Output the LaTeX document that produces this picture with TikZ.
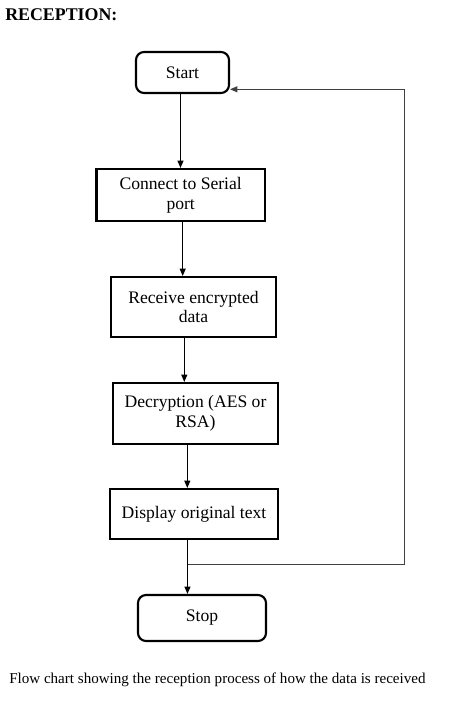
\documentclass[tikz,border=0pt]{standalone}
\usepackage{fontspec}
\setmainfont{Liberation Serif}
\usetikzlibrary{arrows.meta}
\begin{document}
\begin{tikzpicture}[x=0.75pt,y=-0.75pt,
    box/.style={draw,line width=1.6pt,inner sep=0pt,align=center,font=\fontsize{13.2}{14.8}\selectfont},
    term/.style={box,rounded corners=6pt},
    arr/.style={-{Triangle[length=5.5pt,width=4.5pt]},line width=0.75pt},
    fb/.style={draw=black!75}]
  \useasboundingbox (0,0) rectangle (450,704);
  \node[anchor=base west,inner sep=0pt,font=\bfseries\fontsize{13.4}{16}\selectfont] (title) at (5,20) {RECEPTION:};
  \node[term,minimum width=69.75pt,minimum height=30.75pt] (start) at (182.5,72.5) {Start};
  \node[box,minimum width=126.4pt,minimum height=39pt] (connect) at (180.7,195) {Connect to Serial\\port};
  \node[box,minimum width=123.75pt,minimum height=45pt] (receive) at (193.5,307) {Receive encrypted\\data};
  \node[box,minimum width=123.75pt,minimum height=45.75pt] (decrypt) at (195.5,413.5) {Decryption (AES or\\RSA)};
  \node[box,minimum width=126pt,minimum height=37.5pt] (display) at (194,514) {Display original text};
  \node[term,minimum width=96pt,minimum height=34.5pt] (stop) at (202,618) {Stop};
  \node[anchor=base west,inner sep=0pt,font=\fontsize{11.3}{13}\selectfont] (caption) at (9,683) {Flow chart showing the reception process of how the data is received};
  % main flow
  \draw[arr] ([xshift=-1.5pt]start.south) -- ([xshift=-1.5pt]start.south |- connect.north);
  \draw[arr] ([xshift=1.5pt]connect.south) -- ([xshift=1.5pt]connect.south |- receive.north);
  \draw[arr] ([xshift=-6.9pt]receive.south) -- ([xshift=-6.9pt]receive.south |- decrypt.north);
  \draw[arr] ([xshift=-6.15pt]decrypt.south) -- ([xshift=-6.15pt]decrypt.south |- display.north);
  \draw[arr] ([xshift=-4.9pt]display.south) -- ([xshift=-4.9pt]display.south |- stop.north);
  % loop back to start
  \coordinate (join) at (187.5,564.5);
  \draw[arr,fb] (join) -| (404,89.3) -- (start.east |- 0,89.3);
\end{tikzpicture}
\end{document}
